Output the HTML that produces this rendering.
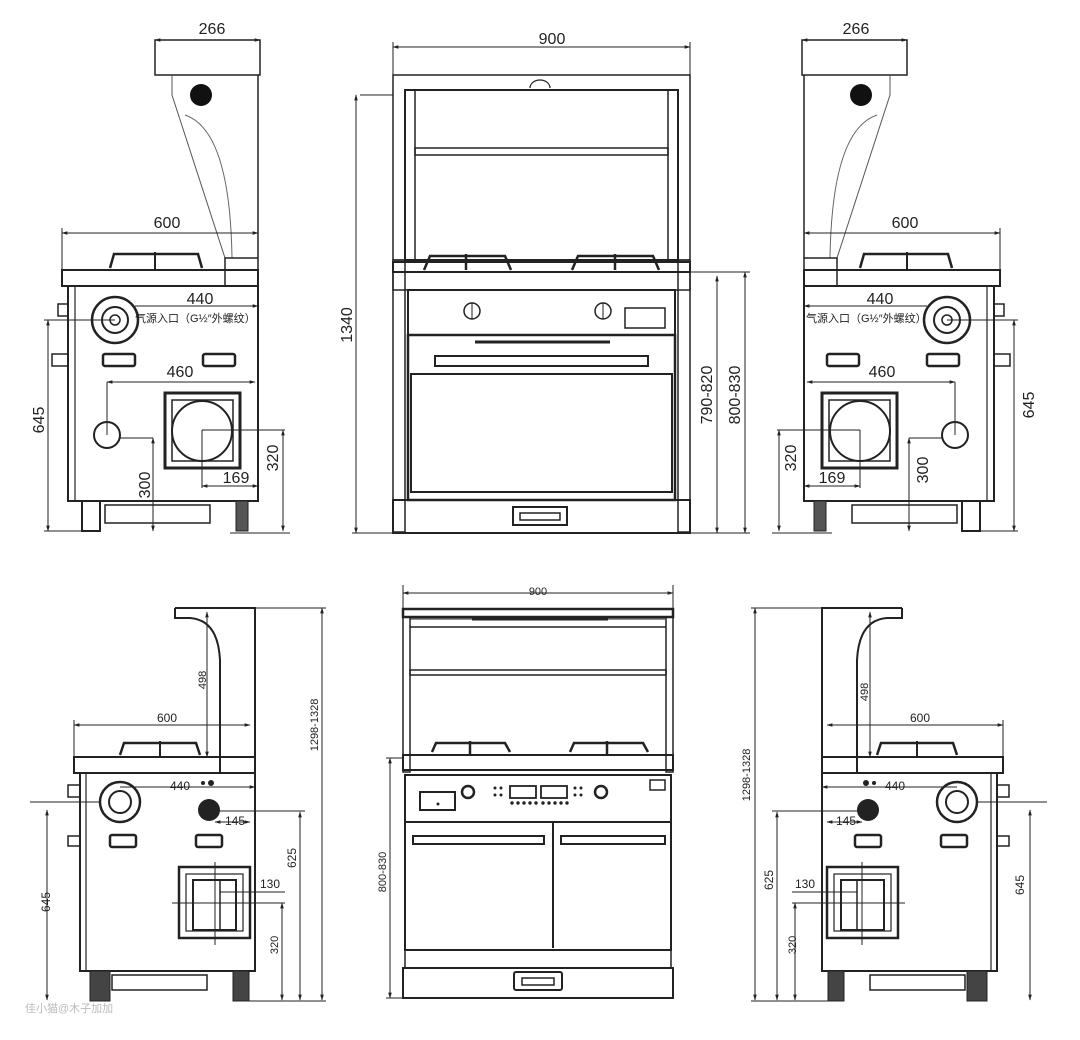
<!DOCTYPE html>
<html><head><meta charset="utf-8"><style>
html,body{margin:0;padding:0;background:#fff}
svg{display:block}
text{font-family:"Liberation Sans","Noto Sans CJK SC",sans-serif;fill:#222}
</style></head><body>
<svg width="1080" height="1040" viewBox="0 0 1080 1040" xmlns="http://www.w3.org/2000/svg">
<defs>
<marker id="a" viewBox="0 0 10 10" refX="9" refY="5" markerWidth="6" markerHeight="6" orient="auto-start-reverse"><path d="M0,2 L10,5 L0,8z" fill="#222"/></marker>
<g id="tl">
 <!-- backsplash -->
 <rect x="155" y="40" width="105" height="35" fill="none" stroke="#222" stroke-width="1.5"/>
 <path d="M172,75 L172,95 L225,258" fill="none" stroke="#555" stroke-width="1"/>
 <path d="M185,115 Q230,130 232,258" fill="none" stroke="#666" stroke-width="1"/>
 <line x1="258" y1="75" x2="258" y2="258" stroke="#222" stroke-width="1.5"/>
 <circle cx="201" cy="95" r="11" fill="#111"/>
 <!-- cooktop -->
 <path d="M110,268 L114,254 L198,254 L202,268" fill="none" stroke="#222" stroke-width="2.5"/>
 <line x1="155" y1="252" x2="155" y2="270" stroke="#222" stroke-width="2"/>
 <rect x="62" y="270" width="196" height="16" fill="none" stroke="#222" stroke-width="2"/>
 <rect x="225" y="258" width="33" height="28" fill="none" stroke="#222" stroke-width="1.5"/>
 <!-- cabinet -->
 <rect x="68" y="286" width="190" height="215" fill="none" stroke="#222" stroke-width="2"/>
 <line x1="75" y1="286" x2="75" y2="501" stroke="#222" stroke-width="1.2"/>
 <rect x="58" y="304" width="10" height="12" fill="none" stroke="#222" stroke-width="1.5"/>
 <rect x="52" y="354" width="16" height="12" fill="none" stroke="#222" stroke-width="1.5"/>
 <circle cx="115" cy="320" r="23" fill="none" stroke="#222" stroke-width="2.5"/>
 <circle cx="115" cy="320" r="13" fill="none" stroke="#222" stroke-width="2"/>
 <circle cx="115" cy="320" r="5" fill="none" stroke="#222" stroke-width="1.5"/>
 <rect x="103" y="354" width="32" height="12" rx="2" fill="none" stroke="#222" stroke-width="2.5"/>
 <rect x="203" y="354" width="32" height="12" rx="2" fill="none" stroke="#222" stroke-width="2.5"/>
 <circle cx="107" cy="435" r="13" fill="none" stroke="#222" stroke-width="2"/>
 <rect x="165" y="393" width="75" height="75" fill="none" stroke="#222" stroke-width="3"/>
 <rect x="172" y="400" width="61" height="61" fill="none" stroke="#222" stroke-width="1.5"/>
 <circle cx="202" cy="431" r="30" fill="none" stroke="#222" stroke-width="2"/>
 <!-- feet/base -->
 <rect x="82" y="501" width="18" height="30" fill="none" stroke="#222" stroke-width="2"/>
 <rect x="236" y="501" width="12" height="30" fill="#555" stroke="#222" stroke-width="1"/>
 <rect x="105" y="505" width="105" height="18" fill="none" stroke="#222" stroke-width="1.5"/>
 <!-- dims -->
 <line x1="155" y1="40" x2="260" y2="40" stroke="#222" marker-start="url(#a)" marker-end="url(#a)"/>
 <line x1="62" y1="233" x2="258" y2="233" stroke="#222" marker-start="url(#a)" marker-end="url(#a)"/>
 <line x1="62" y1="228" x2="62" y2="270" stroke="#222"/>
 <line x1="135" y1="306" x2="258" y2="306" stroke="#222" marker-end="url(#a)"/>
 <line x1="107" y1="382" x2="255" y2="382" stroke="#222" marker-start="url(#a)" marker-end="url(#a)"/>
 <line x1="107" y1="382" x2="107" y2="435" stroke="#222"/>
 <line x1="44" y1="320" x2="115" y2="320" stroke="#222"/>
 <line x1="48" y1="320" x2="48" y2="531" stroke="#222" marker-start="url(#a)" marker-end="url(#a)"/>
 <line x1="44" y1="531" x2="90" y2="531" stroke="#222"/>
 <line x1="120" y1="438" x2="153" y2="438" stroke="#222"/>
 <line x1="153" y1="438" x2="153" y2="531" stroke="#222" marker-start="url(#a)" marker-end="url(#a)"/>
 <line x1="202" y1="430" x2="285" y2="430" stroke="#222"/>
 <line x1="202" y1="430" x2="202" y2="488" stroke="#222"/>
 <line x1="202" y1="486" x2="258" y2="486" stroke="#222" marker-start="url(#a)" marker-end="url(#a)"/>
 <line x1="283" y1="430" x2="283" y2="531" stroke="#222" marker-start="url(#a)" marker-end="url(#a)"/>
 <line x1="230" y1="533" x2="290" y2="533" stroke="#222"/>
</g>
<g id="bl">
 <path d="M175,608 L255,608 L255,757" fill="none" stroke="#222" stroke-width="2"/>
 <path d="M175,608 L175,618 L190,618 Q218,620 220,660 L220,757" fill="none" stroke="#222" stroke-width="2"/>
 <line x1="207" y1="612" x2="207" y2="757" stroke="#222" marker-start="url(#a)" marker-end="url(#a)"/>
 <line x1="74" y1="725" x2="250" y2="725" stroke="#222" marker-start="url(#a)" marker-end="url(#a)"/>
 <line x1="74" y1="720" x2="74" y2="757" stroke="#222"/>
 <path d="M120,755 L124,743 L196,743 L200,755" fill="none" stroke="#222" stroke-width="2.5"/>
 <line x1="160" y1="741" x2="160" y2="757" stroke="#222" stroke-width="2"/>
 <rect x="74" y="757" width="146" height="16" fill="none" stroke="#222" stroke-width="2"/>
 <rect x="220" y="757" width="35" height="16" fill="none" stroke="#222" stroke-width="2"/>
 <rect x="80" y="773" width="175" height="198" fill="none" stroke="#222" stroke-width="2"/>
 <line x1="86" y1="773" x2="86" y2="971" stroke="#222" stroke-width="1.2"/>
 <rect x="68" y="785" width="12" height="12" fill="none" stroke="#222" stroke-width="1.5"/>
 <rect x="68" y="836" width="12" height="10" fill="none" stroke="#222" stroke-width="1.5"/>
 <circle cx="120" cy="802" r="20" fill="none" stroke="#222" stroke-width="2.5"/>
 <circle cx="120" cy="802" r="11" fill="none" stroke="#222" stroke-width="2"/>
 <circle cx="209" cy="810" r="11" fill="#222"/>
 <circle cx="203" cy="783" r="2" fill="#222"/><circle cx="211" cy="783" r="3" fill="#222"/>
 <rect x="110" y="835" width="26" height="12" rx="2" fill="none" stroke="#222" stroke-width="2.5"/>
 <rect x="196" y="835" width="26" height="12" rx="2" fill="none" stroke="#222" stroke-width="2.5"/>
 <rect x="179" y="867" width="71" height="71" fill="none" stroke="#222" stroke-width="2.5"/>
 <rect x="186" y="874" width="57" height="57" fill="none" stroke="#222" stroke-width="1.2"/>
 <rect x="193" y="880" width="43" height="50" fill="none" stroke="#222" stroke-width="2"/>
 <line x1="215" y1="862" x2="215" y2="945" stroke="#222"/>
 <line x1="172" y1="903" x2="262" y2="903" stroke="#222"/>
 <line x1="220" y1="880" x2="220" y2="930" stroke="#222" stroke-width="1.5"/>
 <rect x="90" y="971" width="20" height="30" fill="#444" stroke="#222"/>
 <rect x="233" y="971" width="16" height="30" fill="#444" stroke="#222"/>
 <rect x="112" y="975" width="95" height="15" fill="none" stroke="#222" stroke-width="1.5"/>
 <line x1="120" y1="787" x2="255" y2="787" stroke="#222" marker-end="url(#a)"/>
 <line x1="215" y1="811" x2="305" y2="811" stroke="#222"/>
 <line x1="215" y1="822" x2="250" y2="822" stroke="#222" marker-start="url(#a)" marker-end="url(#a)"/>
 <line x1="300" y1="812" x2="300" y2="1000" stroke="#222" marker-start="url(#a)" marker-end="url(#a)"/>
 <line x1="220" y1="892" x2="285" y2="892" stroke="#222"/>
 <line x1="250" y1="903" x2="285" y2="903" stroke="#222"/>
 <line x1="282" y1="903" x2="282" y2="1000" stroke="#222" marker-start="url(#a)" marker-end="url(#a)"/>
 <line x1="256" y1="608" x2="326" y2="608" stroke="#222"/>
 <line x1="322" y1="608" x2="322" y2="1000" stroke="#222" marker-start="url(#a)" marker-end="url(#a)"/>
 <line x1="240" y1="1001" x2="326" y2="1001" stroke="#222"/>
 <line x1="30" y1="802" x2="100" y2="802" stroke="#222"/>
 <line x1="47" y1="810" x2="47" y2="1000" stroke="#222" marker-start="url(#a)" marker-end="url(#a)"/>
</g>
</defs>
<use href="#tl"/>
<use href="#tl" transform="translate(1062,0) scale(-1,1)"/>
<use href="#bl"/>
<use href="#bl" transform="translate(1077,0) scale(-1,1)"/>

<!-- top center -->
<g fill="none" stroke="#222">
 <line x1="393" y1="47" x2="690" y2="47" marker-start="url(#a)" marker-end="url(#a)"/>
 <line x1="393" y1="42" x2="393" y2="75"/><line x1="690" y1="42" x2="690" y2="75"/>
 <rect x="393" y="75" width="297" height="185" stroke-width="1.5"/>
 <rect x="405" y="90" width="273" height="170" stroke-width="2"/>
 <line x1="415" y1="90" x2="415" y2="260" stroke-width="1.5"/><line x1="668" y1="90" x2="668" y2="260" stroke-width="1.5"/>
 <rect x="415" y="148" width="253" height="7" stroke-width="1.5"/>
 <path d="M530,88 a10,8 0 0 1 20,0" stroke-width="1.2"/>
 <path d="M424,270 L430,256 L505,256 L511,270 M466,254 V270" stroke-width="2.5"/>
 <path d="M572,270 L578,256 L653,256 L659,270 M615,254 V270" stroke-width="2.5"/>
 <rect x="393" y="262" width="297" height="10" stroke-width="2"/>
 <rect x="393" y="272" width="297" height="18" stroke-width="1.5"/>
 <rect x="408" y="290" width="267" height="45" stroke-width="2"/>
 <circle cx="472" cy="311" r="8" stroke-width="1.5"/><line x1="472" y1="303" x2="472" y2="319"/>
 <circle cx="603" cy="311" r="8" stroke-width="1.5"/><line x1="603" y1="303" x2="603" y2="319"/>
 <rect x="625" y="308" width="40" height="20" stroke-width="1.5"/>
 <line x1="475" y1="342" x2="610" y2="342" stroke-width="3"/>
 <rect x="408" y="335" width="267" height="165" stroke-width="2.5"/>
 <rect x="435" y="356" width="213" height="10" stroke-width="2"/>
 <rect x="411" y="374" width="261" height="118" stroke-width="2"/>
 <rect x="393" y="260" width="12" height="272" stroke-width="1.5"/>
 <rect x="678" y="260" width="12" height="272" stroke-width="1.5"/>
 <rect x="393" y="500" width="297" height="33" stroke-width="2"/>
 <rect x="513" y="507" width="54" height="18" stroke-width="2"/>
 <rect x="520" y="513" width="40" height="7" stroke-width="1.5"/>
 <line x1="360" y1="95" x2="393" y2="95"/>
 <line x1="356" y1="95" x2="356" y2="533" marker-start="url(#a)" marker-end="url(#a)"/>
 <line x1="352" y1="533" x2="393" y2="533"/>
 <line x1="690" y1="272" x2="750" y2="272"/>
 <line x1="717" y1="276" x2="717" y2="533" marker-start="url(#a)" marker-end="url(#a)"/>
 <line x1="745" y1="272" x2="745" y2="533" marker-start="url(#a)" marker-end="url(#a)"/>
 <line x1="690" y1="533" x2="750" y2="533"/>
</g>

<!-- bottom center -->
<g fill="none" stroke="#222">
 <line x1="403" y1="593" x2="673" y2="593" marker-start="url(#a)" marker-end="url(#a)"/>
 <line x1="403" y1="585" x2="403" y2="608"/><line x1="673" y1="585" x2="673" y2="608"/>
 <rect x="403" y="609" width="270" height="8" stroke-width="2.5"/>
 <line x1="472" y1="619" x2="608" y2="619" stroke-width="3"/>
 <line x1="410" y1="619" x2="665" y2="619" stroke-width="1"/>
 <rect x="403" y="617" width="7" height="155" stroke-width="1.5"/>
 <rect x="666" y="617" width="7" height="155" stroke-width="1.5"/>
 <line x1="410" y1="627" x2="666" y2="627" stroke-width="1.5"/>
 <rect x="410" y="670" width="256" height="5" stroke-width="1.5"/>
 <path d="M432,752 L436,743 L505,743 L510,752 M470,741 V755" stroke-width="2.5"/>
 <path d="M570,752 L574,743 L643,743 L648,752 M607,741 V755" stroke-width="2.5"/>
 <rect x="403" y="755" width="270" height="15" stroke-width="2"/>
 <rect x="405" y="775" width="266" height="47" stroke-width="2"/>
 <rect x="420" y="792" width="35" height="18" stroke-width="2"/>
 <circle cx="468" cy="792" r="6" stroke-width="2.5"/>
 <circle cx="601" cy="792" r="6" stroke-width="2.5"/>
 <rect x="510" y="786" width="26" height="12" stroke-width="1.8"/>
 <rect x="541" y="786" width="26" height="12" stroke-width="1.8"/>
 <rect x="650" y="780" width="15" height="10" stroke-width="1.5"/>
 <rect x="405" y="822" width="266" height="128" stroke-width="2"/>
 <line x1="553" y1="822" x2="553" y2="948" stroke-width="2"/>
 <rect x="413" y="836" width="131" height="8" stroke-width="2"/>
 <rect x="561" y="836" width="104" height="8" stroke-width="2"/>
 <rect x="405" y="950" width="266" height="18" stroke-width="1.5"/>
 <rect x="403" y="968" width="270" height="30" stroke-width="2"/>
 <rect x="514" y="972" width="48" height="18" rx="2" stroke-width="2"/>
 <rect x="522" y="978" width="32" height="7" stroke-width="1.5"/>
 <line x1="390" y1="758" x2="390" y2="998" marker-start="url(#a)" marker-end="url(#a)"/>
 <line x1="386" y1="758" x2="403" y2="758"/><line x1="386" y1="998" x2="403" y2="998"/>
</g>
<g fill="#222">
 <circle cx="495" cy="788" r="1.5"/><circle cx="501" cy="788" r="1.5"/><circle cx="495" cy="795" r="1.5"/><circle cx="501" cy="795" r="1.5"/>
 <circle cx="575" cy="788" r="1.5"/><circle cx="581" cy="788" r="1.5"/><circle cx="575" cy="795" r="1.5"/><circle cx="581" cy="795" r="1.5"/>
 <circle cx="512" cy="803" r="1.7"/><circle cx="518" cy="803" r="1.7"/><circle cx="524" cy="803" r="1.7"/><circle cx="530" cy="803" r="1.7"/><circle cx="536" cy="803" r="1.7"/>
 <circle cx="543" cy="803" r="1.7"/><circle cx="549" cy="803" r="1.7"/><circle cx="555" cy="803" r="1.7"/><circle cx="561" cy="803" r="1.7"/><circle cx="567" cy="803" r="1.7"/>
 <circle cx="438" cy="804" r="1.5"/>
</g>

<!-- texts -->
<g font-size="16">
 <text x="212" y="34" text-anchor="middle">266</text>
 <text x="856" y="34" text-anchor="middle">266</text>
 <text x="167" y="228" text-anchor="middle">600</text>
 <text x="905" y="228" text-anchor="middle">600</text>
 <text x="200" y="304" text-anchor="middle">440</text>
 <text x="880" y="304" text-anchor="middle">440</text>
 <text x="180" y="377" text-anchor="middle">460</text>
 <text x="882" y="377" text-anchor="middle">460</text>
 <text x="236" y="483" text-anchor="middle">169</text>
 <text x="832" y="483" text-anchor="middle">169</text>
 <text x="552" y="44" text-anchor="middle">900</text>
 <text transform="translate(44,420) rotate(-90)" text-anchor="middle">645</text>
 <text transform="translate(1034,405) rotate(-90)" text-anchor="middle">645</text>
 <text transform="translate(150,485) rotate(-90)" text-anchor="middle">300</text>
 <text transform="translate(928,470) rotate(-90)" text-anchor="middle">300</text>
 <text transform="translate(278,458) rotate(-90)" text-anchor="middle">320</text>
 <text transform="translate(796,458) rotate(-90)" text-anchor="middle">320</text>
 <text transform="translate(352,325) rotate(-90)" text-anchor="middle">1340</text>
 <text transform="translate(712,395) rotate(-90)" text-anchor="middle">790-820</text>
 <text transform="translate(740,395) rotate(-90)" text-anchor="middle">800-830</text>
</g>
<g font-size="11">
 <text x="135" y="322">气源入口（G½″外螺纹）</text>
 <text x="806" y="322">气源入口（G½″外螺纹）</text>
</g>
<g font-size="12">
 <text x="538" y="595" text-anchor="middle" font-size="11">900</text>
 <text x="167" y="722" text-anchor="middle">600</text>
 <text x="920" y="722" text-anchor="middle">600</text>
 <text x="180" y="790" text-anchor="middle">440</text>
 <text x="895" y="790" text-anchor="middle">440</text>
 <text x="235" y="825" text-anchor="middle">145</text>
 <text x="846" y="825" text-anchor="middle">145</text>
 <text x="270" y="888" text-anchor="middle">130</text>
 <text x="805" y="888" text-anchor="middle">130</text>
 <text transform="translate(206,680) rotate(-90)" text-anchor="middle" font-size="11">498</text>
 <text transform="translate(868,692) rotate(-90)" text-anchor="middle" font-size="11">498</text>
 <text transform="translate(318,725) rotate(-90)" text-anchor="middle" font-size="11">1298-1328</text>
 <text transform="translate(750,775) rotate(-90)" text-anchor="middle" font-size="11">1298-1328</text>
 <text transform="translate(296,858) rotate(-90)" text-anchor="middle">625</text>
 <text transform="translate(773,880) rotate(-90)" text-anchor="middle">625</text>
 <text transform="translate(278,945) rotate(-90)" text-anchor="middle" font-size="11">320</text>
 <text transform="translate(796,945) rotate(-90)" text-anchor="middle" font-size="11">320</text>
 <text transform="translate(50,902) rotate(-90)" text-anchor="middle">645</text>
 <text transform="translate(1024,885) rotate(-90)" text-anchor="middle">645</text>
 <text transform="translate(386,872) rotate(-90)" text-anchor="middle" font-size="11">800-830</text>
</g>
<text x="25" y="1012" font-size="11" style="fill:#bbb">佳小猫@木子加加</text>
</svg>
</body></html>
